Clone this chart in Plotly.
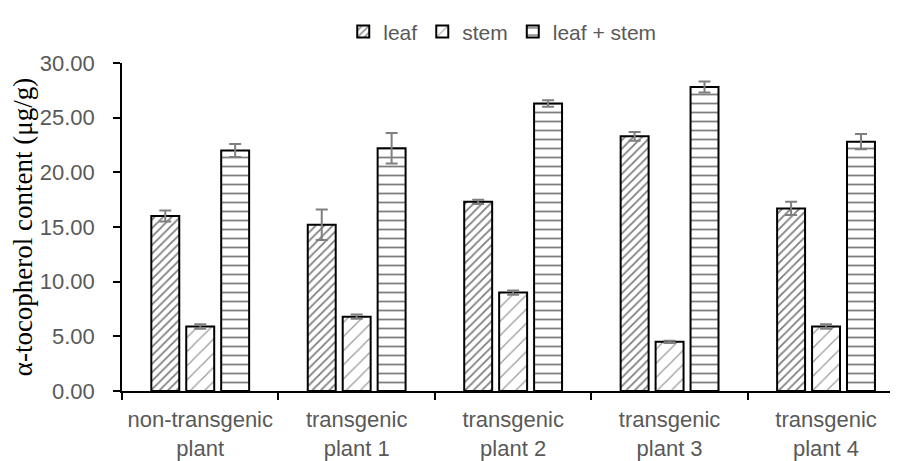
import plotly.graph_objects as go

categories = ["non-transgenic<br>plant", "transgenic<br>plant 1", "transgenic<br>plant 2",
              "transgenic<br>plant 3", "transgenic<br>plant 4"]
series_names = ["leaf", "stem", "leaf + stem"]
leaf = [16.0, 15.2, 17.3, 23.3, 16.7]
leaf_err = [0.5, 1.4, 0.2, 0.4, 0.6]
stem = [5.9, 6.8, 9.0, 4.5, 5.9]
stem_err = [0.2, 0.2, 0.2, 0.1, 0.2]
leaf_stem = [22.0, 22.2, 26.3, 27.8, 22.8]
leaf_stem_err = [0.6, 1.4, 0.3, 0.5, 0.7]
y_ticks = [0, 5, 10, 15, 20, 25, 30]

values = [leaf, stem, leaf_stem]
errors = [leaf_err, stem_err, leaf_stem_err]
patterns = [
    dict(shape="/", fgcolor="black", bgcolor="white", size=6, solidity=0.3),
    dict(shape="/", fgcolor="#333333", bgcolor="white", size=10, solidity=0.12),
    dict(shape="-", fgcolor="black", bgcolor="white", size=9, solidity=0.2),
]

gray = "#595959"
tickfont = dict(family="Liberation Sans, Arial, sans-serif", size=22, color=gray)

fig = go.Figure()
for name, v, e, p in zip(series_names, values, errors, patterns):
    fig.add_trace(go.Bar(
        name=name, x=categories, y=v,
        marker=dict(color="white", pattern=p, line=dict(color="black", width=2)),
        error_y=dict(type="data", array=e, visible=True, color="#7f7f7f", thickness=2, width=6),
    ))

# page body has an 8px default margin; the figure is sized/offset to compensate
fig.update_layout(
    width=890, height=453,
    margin=dict(l=114, r=0, t=55, b=70, autoexpand=False),
    paper_bgcolor="white", plot_bgcolor="white",
    barmode="group", bargap=0.33, bargroupgap=0.2,
    showlegend=True,
    legend=dict(orientation="h", x=0.49, xanchor="center", y=1.095, yanchor="middle",
                font=dict(family="Liberation Sans, Arial, sans-serif", size=21, color=gray),
                itemwidth=30, tracegroupgap=0),
    xaxis=dict(type="category", range=[-0.5, 4.46], showline=True, linecolor="black", linewidth=1.5,
               ticks="outside", tickson="boundaries", ticklen=7, tickcolor="black", tickwidth=1.5,
               showgrid=False, tickfont=tickfont, automargin=False, ticklabelstandoff=8),
    yaxis=dict(range=[0, 30], tickvals=y_ticks, tickformat=".2f", showline=True, linecolor="black",
               linewidth=1.5, ticks="outside", ticklen=7, tickcolor="black", tickwidth=1.5,
               showgrid=False, zeroline=False, tickfont=tickfont, automargin=False,
               ticklabelstandoff=14,
               title=dict(text="α-tocopherol content (μg/g)", standoff=4,
                          font=dict(family="Liberation Serif, Times New Roman, serif", size=27, color="black"))),
)

fig.write_html("out.html")
